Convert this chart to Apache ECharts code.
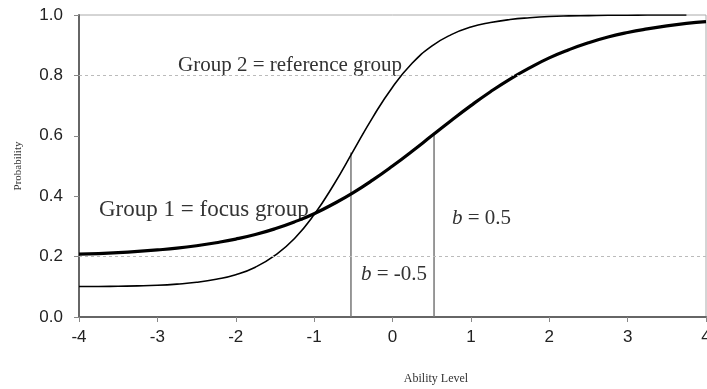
<!DOCTYPE html>
<html>
<head>
<meta charset="utf-8">
<script src="https://cdn.jsdelivr.net/npm/echarts@6/dist/echarts.min.js"></script>
<style>html,body{margin:0;padding:0;background:#fff}#c{width:707px;height:389px}</style>
</head>
<body>
<div id="c"></div>
<script>
// Ability levels (x) where the curves were read
var abilityX = [-4,-3.75,-3.5,-3.25,-3,-2.75,-2.5,-2.25,-2,-1.75,-1.5,-1.25,-1,-0.75,-0.5,-0.25,0,0.25,0.5,0.75,1,1.25,1.5,1.75,2,2.25,2.5,2.75,3,3.25,3.5,3.75,4];
// Group 2 = reference group (thin curve)
var group2 = [0.101,0.101,0.102,0.103,0.105,0.109,0.115,0.125,0.140,0.165,0.204,0.260,0.339,0.438,0.550,0.662,0.761,0.840,0.897,0.935,0.960,0.975,0.985,0.991,0.995,0.997,0.998,0.999,0.999,1.0,1.0,1.0,null];
// Group 1 = focus group (thick curve)
var group1 = [0.208,0.210,0.213,0.217,0.222,0.228,0.236,0.246,0.258,0.273,0.292,0.315,0.342,0.375,0.412,0.454,0.500,0.549,0.600,0.651,0.700,0.746,0.788,0.825,0.858,0.885,0.908,0.927,0.942,0.954,0.964,0.972,0.978];
// Difficulty markers: x position and the height of the curve there
var bRefX = -0.53, bRefTop = 0.545;
var bFocX = 0.53, bFocTop = 0.61;
// Dotted reference lines
var refLines = [0.2, 0.8];
var yTicks = [0, 0.2, 0.4, 0.6, 0.8, 1.0];
var xTicks = [-4,-3,-2,-1,0,1,2,3,4];

function pairs(xs, ys){ var out=[]; for (var i=0;i<xs.length;i++){ if (ys[i]!==null) out.push([xs[i], ys[i]]); } return out; }

var chart = echarts.init(document.getElementById('c'), null, {renderer:'canvas'});
var serif = '"Liberation Serif", "DejaVu Serif", serif';
chart.setOption({
  animation:false,
  backgroundColor:'#fff',
  grid:{left:79, right:1, top:15, bottom:72, show:true, borderColor:'#aaa', borderWidth:1, containLabel:false, outerBoundsMode:'none'},
  xAxis:{type:'value', min:xTicks[0], max:xTicks[xTicks.length-1], interval:1,
    axisLine:{show:true, onZero:false, lineStyle:{color:'#666', width:2}},
    axisTick:{show:true, length:5, inside:false, lineStyle:{color:'#888'}},
    axisLabel:{margin:12, fontSize:17, color:'#222', fontFamily:'"Liberation Sans", Arial, sans-serif', hideOverlap:false},
    splitLine:{show:false}},
  yAxis:{type:'value', min:yTicks[0], max:yTicks[yTicks.length-1], interval:0.2,
    axisLine:{show:true, onZero:false, lineStyle:{color:'#666', width:2}},
    axisTick:{show:true, length:5, lineStyle:{color:'#888'}},
    axisLabel:{margin:16, fontSize:17, color:'#222', fontFamily:'"Liberation Sans", Arial, sans-serif',
      formatter:function(v){return v.toFixed(1);}},
    splitLine:{show:false}},
  series:[
    {type:'line', data:[], silent:true,
      markLine:{silent:true, symbol:['none','none'], label:{show:false},
        lineStyle:{color:'#bbb', type:[3,3], width:1},
        data: refLines.map(function(v){return {yAxis:v};})}},
    {type:'line', data:[[bRefX,0],[bRefX,bRefTop]], showSymbol:false, lineStyle:{color:'#777', width:1.5}, silent:true},
    {type:'line', data:[[bFocX,0],[bFocX,bFocTop]], showSymbol:false, lineStyle:{color:'#777', width:1.5}, silent:true},
    {type:'line', name:'Group 2', data:pairs(abilityX, group2), smooth:true, showSymbol:false, lineStyle:{color:'#000', width:1.6}},
    {type:'line', name:'Group 1', data:pairs(abilityX, group1), smooth:true, showSymbol:false, lineStyle:{color:'#000', width:3.2}}
  ],
  graphic:[
    {type:'text', x:178, y:65, style:{text:'Group 2 = reference group', font:'21px '+serif, fill:'#333', textAlign:'left', textVerticalAlign:'middle'}},
    {type:'text', x:99, y:210, style:{text:'Group 1 = focus group', font:'23px '+serif, fill:'#333', textAlign:'left', textVerticalAlign:'middle'}},
    {type:'text', x:452, y:218, style:{text:'{i|b} = 0.5', font:'21px '+serif, fill:'#333', textAlign:'left', textVerticalAlign:'middle',
      rich:{i:{fontStyle:'italic', fontSize:21, fontFamily:serif, fill:'#333'}}}},
    {type:'text', x:361, y:274, style:{text:'{i|b} = -0.5', font:'21px '+serif, fill:'#333', textAlign:'left', textVerticalAlign:'middle',
      rich:{i:{fontStyle:'italic', fontSize:21, fontFamily:serif, fill:'#333'}}}},
    {type:'text', x:18, y:166, rotation:Math.PI/2, style:{text:'Probability', font:'11px '+serif, fill:'#333', textAlign:'center', textVerticalAlign:'middle'}},
    {type:'text', x:436, y:379, style:{text:'Ability Level', font:'12px '+serif, fill:'#333', textAlign:'center', textVerticalAlign:'middle'}}
  ]
});
</script>
</body>
</html>
